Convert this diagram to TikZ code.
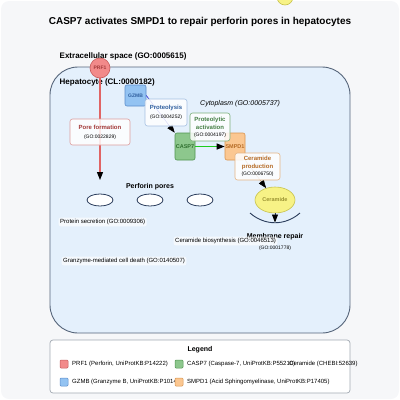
\documentclass[tikz,border=0pt]{standalone}
\usepackage{fontspec}
\setmainfont{Liberation Sans}
\usetikzlibrary{arrows.meta,shapes.geometric}

\definecolor{bggray}{HTML}{F6F7F9}
\definecolor{cellfill}{HTML}{E4F0FC}
\definecolor{celldraw}{HTML}{56657A}
\definecolor{membrane}{HTML}{2B3D5C}
\definecolor{prffill}{HTML}{F28A8A}
\definecolor{prfdraw}{HTML}{C75B5B}
\definecolor{prftext}{HTML}{A33A3A}
\definecolor{gzmbfill}{HTML}{93C3F2}
\definecolor{gzmbdraw}{HTML}{5B8DCB}
\definecolor{gzmbtext}{HTML}{2F5F9F}
\definecolor{caspfill}{HTML}{8DC78D}
\definecolor{caspdraw}{HTML}{4F944F}
\definecolor{casptext}{HTML}{2F6F2F}
\definecolor{smpdfill}{HTML}{FBC791}
\definecolor{smpddraw}{HTML}{D9944F}
\definecolor{smpdtext}{HTML}{B56A24}
\definecolor{cerfill}{HTML}{F7F286}
\definecolor{cerdraw}{HTML}{C7C24C}
\definecolor{certext}{HTML}{9A9232}
\definecolor{poreline}{HTML}{E06464}
\definecolor{actgreen}{HTML}{1DCC1D}
\definecolor{legendgray}{HTML}{A3AAB3}

\tikzset{
  entity/.style={rectangle, rounded corners=2pt, line width=0.6pt, inner sep=0pt,
    minimum width=20pt, minimum height=27pt, font=\fontsize{5.5}{6}\selectfont\bfseries},
  gobox/.style={rectangle, rounded corners=2.5pt, draw=#1, fill=white, fill opacity=0.85,
    text opacity=1, line width=0.6pt, align=center, inner sep=0pt, font=\fontsize{6}{7}\selectfont},
  golabel/.style={fill=white, fill opacity=0.65, text opacity=1, rounded corners=2pt,
    inner sep=1.5pt, anchor=west, font=\fontsize{6}{7}\selectfont},
  pore/.style={ellipse, draw=membrane, fill=white, line width=0.8pt,
    minimum width=26pt, minimum height=12pt, inner sep=0pt},
  headarrow/.style={-{Triangle[black,width=6pt,length=8pt]}},
  swatch/.style={rectangle, rounded corners=1pt, line width=0.5pt, minimum size=8pt, inner sep=0pt},
  legtext/.style={anchor=west, inner sep=0pt, font=\fontsize{6}{7}\selectfont},
}

\newcommand{\gotitle}{\fontsize{6}{7}\selectfont\bfseries}
\newcommand{\goid}{\fontsize{5}{6}\selectfont\mdseries\color{black}}

\begin{document}
\begin{tikzpicture}[x=1pt,y=-1pt]

\def\cellw{300};
\def\cellh{266};

\useasboundingbox (0,0) rectangle (400,400);
\fill[bggray, rounded corners=8pt] (1,1) rectangle (399,399);
\node[circle, fill=cerfill, draw=cerdraw, line width=0.6pt, minimum size=16pt] (topdot) at (285,-3) {};

\node (title) at (200,22) {\fontsize{10}{12}\selectfont\bfseries CASP7 activates SMPD1 to repair perforin pores in hepatocytes};

\node[anchor=west, inner sep=0pt, font=\fontsize{8}{9}\selectfont\bfseries] (extra) at (59.5,56) {Extracellular space (GO:0005615)};
\node[draw=celldraw, fill=cellfill, line width=0.9pt, rounded corners=28pt,
  minimum width=\cellw pt, minimum height=\cellh pt] (cell) at (200,200) {};
\node[anchor=west, inner sep=0pt, font=\fontsize{8}{9}\selectfont\bfseries] (hepa) at (59.5,82) {Hepatocyte (CL:0000182)};
\node[anchor=west, inner sep=0pt, font=\fontsize{7}{8}\selectfont\itshape] (cyto) at (200,104) {Cytoplasm (GO:0005737)};

% perforin pores
\node[font=\fontsize{7}{8}\selectfont\bfseries] (porelabel) at (150,187) {Perforin pores};
\node[pore] (pore1) at (100,200) {};
\node[pore] (pore2) at (150,200) {};
\node[pore] (pore3) at (200,200) {};
\coordinate (poretip) at (100,180);

% membrane repair
\draw[membrane, line width=0.9pt] (250,213) .. controls (265,226) and (285,226) .. (300,213);
\coordinate (repair) at (275,222.5);
\node[font=\fontsize{7}{8}\selectfont\bfseries] (repairlabel) at (275,237) {Membrane repair};
\node[font=\fontsize{5}{6}\selectfont] (repairid) at (275,248) {(GO:0001778)};

% entities
\node[circle, draw=prfdraw, fill=prffill, line width=0.6pt, minimum size=20pt, inner sep=0pt,
  text=prftext, font=\fontsize{5}{6}\selectfont\bfseries] (prf1) at (100,68) {PRF1};
\node[entity, draw=gzmbdraw, fill=gzmbfill, text=gzmbtext, minimum width=21pt, minimum height=21pt,
  font=\fontsize{5}{6}\selectfont\bfseries] (gzmb) at (135.5,95.5) {GZMB};
\node[entity, draw=caspdraw, fill=caspfill, text=casptext] (casp7) at (185,146.5) {CASP7};
\node[entity, draw=smpddraw, fill=smpdfill, text=smpdtext] (smpd1) at (235,146.5) {SMPD1};
\node[ellipse, draw=cerdraw, fill=cerfill, line width=0.6pt, minimum width=40pt, minimum height=26pt,
  inner sep=0pt, text=certext, font=\fontsize{5.5}{6}\selectfont\bfseries] (ceramide) at (275,200) {Ceramide};

% connectors
\draw[headarrow, poreline, line width=1.2pt] (prf1) -- (poretip);
\draw[headarrow, blue!80!black, line width=0.5pt] (gzmb.east) -- (casp7.north west);
\draw[headarrow, actgreen, line width=1.2pt] (casp7) -- (smpd1);
\draw[headarrow, smpddraw!80!black, line width=0.5pt] (smpd1) -- (ceramide);
\draw[headarrow, membrane, line width=0.8pt] (ceramide) -- (repair);

% process boxes
\node[gobox=prfdraw!60!white, minimum width=60pt, minimum height=26pt, text=prftext] (poreform) at (100,132)
  {\gotitle Pore formation\\[2pt]\goid (GO:0022829)};
\node[gobox=gzmbdraw!55!white, minimum width=42pt, minimum height=27pt, text=gzmbtext] (proteolysis) at (166,112.5)
  {\gotitle Proteolysis\\[2pt]\goid (GO:0004252)};
\node[gobox=caspdraw!75!white, minimum width=40pt, minimum height=28pt, text=caspdraw!85!black] (activation) at (210,127)
  {\gotitle Proteolytic\\[1pt]\gotitle activation\\\goid (GO:0004197)};
\node[gobox=smpddraw!70!white, minimum width=45pt, minimum height=27pt, text=smpdtext] (production) at (257.5,166.5)
  {\gotitle Ceramide\\[1pt]\gotitle production\\\goid (GO:0006750)};

% free process labels
\node[golabel] (secretion) at (58.5,222) {Protein secretion (GO:0009306)};
\node[golabel] (biosynth) at (173.5,241) {Ceramide biosynthesis (GO:0046513)};
\node[golabel] (death) at (61.5,261) {Granzyme-mediated cell death (GO:0140507)};

% legend
\node[draw=legendgray, fill=white, line width=0.7pt, rounded corners=3pt,
  minimum width=300pt, minimum height=53pt] (legend) at (200,366.5) {};
\node[font=\fontsize{7}{8}\selectfont\bfseries] (legtitle) at (200,350) {Legend};
\node[legtext] (legprf) at (72,364) {PRF1 (Perforin, UniProtKB:P14222)};
\node[legtext] (leggzmb) at (72,382) {GZMB (Granzyme B, UniProtKB:P10144)};
\node[legtext] (legcasp) at (187,364) {CASP7 (Caspase-7, UniProtKB:P55210)};
\node[legtext] (legsmpd) at (187,382) {SMPD1 (Acid Sphingomyelinase, UniProtKB:P17405)};
\node[legtext] (legcer) at (289,364) {Ceramide (CHEBI:52639)};
\node[swatch, draw=prfdraw, fill=prffill] (swprf) at (64,364) {};
\node[swatch, draw=gzmbdraw, fill=gzmbfill] (swgzmb) at (64,382) {};
\node[swatch, draw=caspdraw, fill=caspfill] (swcasp) at (179,364) {};
\node[swatch, draw=smpddraw, fill=smpdfill] (swsmpd) at (179,382) {};

\end{tikzpicture}
\end{document}
